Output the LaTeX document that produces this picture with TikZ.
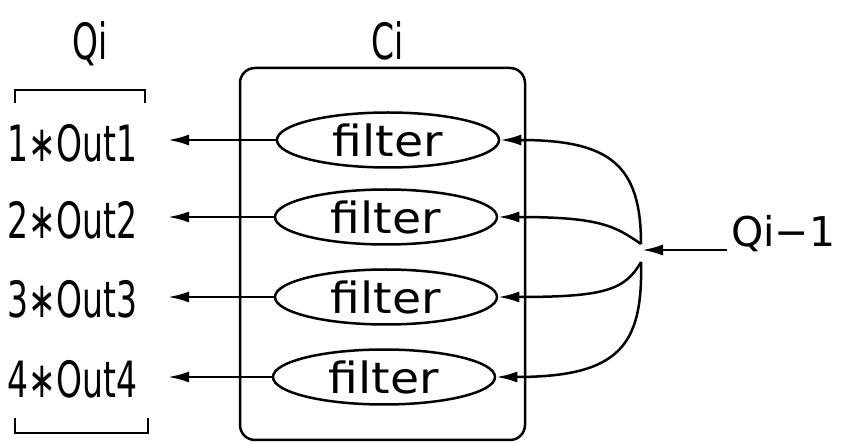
\documentclass[tikz,border=0pt]{standalone}
\usepackage{fontspec}
\setmainfont{DejaVu Sans}
\newfontfamily\condfont{DejaVu Sans}[FakeStretch=0.66]
\newfontfamily\widefont{DejaVu Sans}[FakeStretch=1.1]
\usetikzlibrary{shapes.geometric,arrows.meta}
\begin{document}
\begin{tikzpicture}[x=1pt,y=-1pt,
  ln/.style={line width=2.5pt},
  arr/.style={ln,-{Latex[length=21pt,width=11pt]}},
  filt/.style={ellipse,draw,line width=2.5pt,minimum width=222pt,minimum height=55pt,inner sep=0pt,font=\widefont\fontsize{43}{43}\selectfont},
  lab/.style={font=\condfont\fontsize{50}{50}\selectfont,inner xsep=2pt,outer xsep=29pt,inner ysep=0pt,anchor=base east},
  ttl/.style={font=\condfont\fontsize{50}{50}\selectfont,inner sep=0pt,anchor=base}]
\useasboundingbox (0,0) rectangle (841,443);
% titles
\node[ttl] (qi) at (90,60) {Qi};
\node[ttl] (ci) at (388,60) {Ci};
% brackets
\draw[ln] (15,103) -- (15,90) -- (145,90) -- (145,103);
\draw[ln] (15,418) -- (15,433) -- (148,433) -- (148,418);
% box
\draw[ln,rounded corners=15pt] (240,68) rectangle (525,440);
% filters
\node[filt] (f1) at (388,140) {filter};
\node[filt] (f2) at (386,217) {filter};
\node[filt] (f3) at (386,297) {filter};
\node[filt] (f4) at (384,377) {filter};
% labels
\node[lab] (o1) at (168,162) {1∗Out1};
\node[lab] (o2) at (168,239) {2∗Out2};
\node[lab] (o3) at (168,318) {3∗Out3};
\node[lab] (o4) at (168,398) {4∗Out4};
\foreach \i in {1,2,3,4}{
  \draw[arr] (f\i.west) -- (f\i.west -| o\i.east);
}
% input
\node[font=\fontsize{41}{41}\selectfont,inner sep=0pt,anchor=base west] (qm) at (731,247) {Qi−1};
\coordinate (qs) at (727,250);
\coordinate (cv) at (642,250);
\coordinate (ctop) at (641,244);
\coordinate (cbot) at (641,262);
\draw[arr] (qs) -- (cv);
\draw[arr] (ctop) .. controls (641,165) and (610,140) .. (f1.east);
\draw[arr] (ctop) .. controls (615,226) and (600,217) .. (f2.east);
\draw[arr] (cbot) .. controls (625,290) and (605,297) .. (f3.east);
\draw[arr] (cbot) .. controls (643,345) and (620,377) .. (f4.east);
\end{tikzpicture}
\end{document}
